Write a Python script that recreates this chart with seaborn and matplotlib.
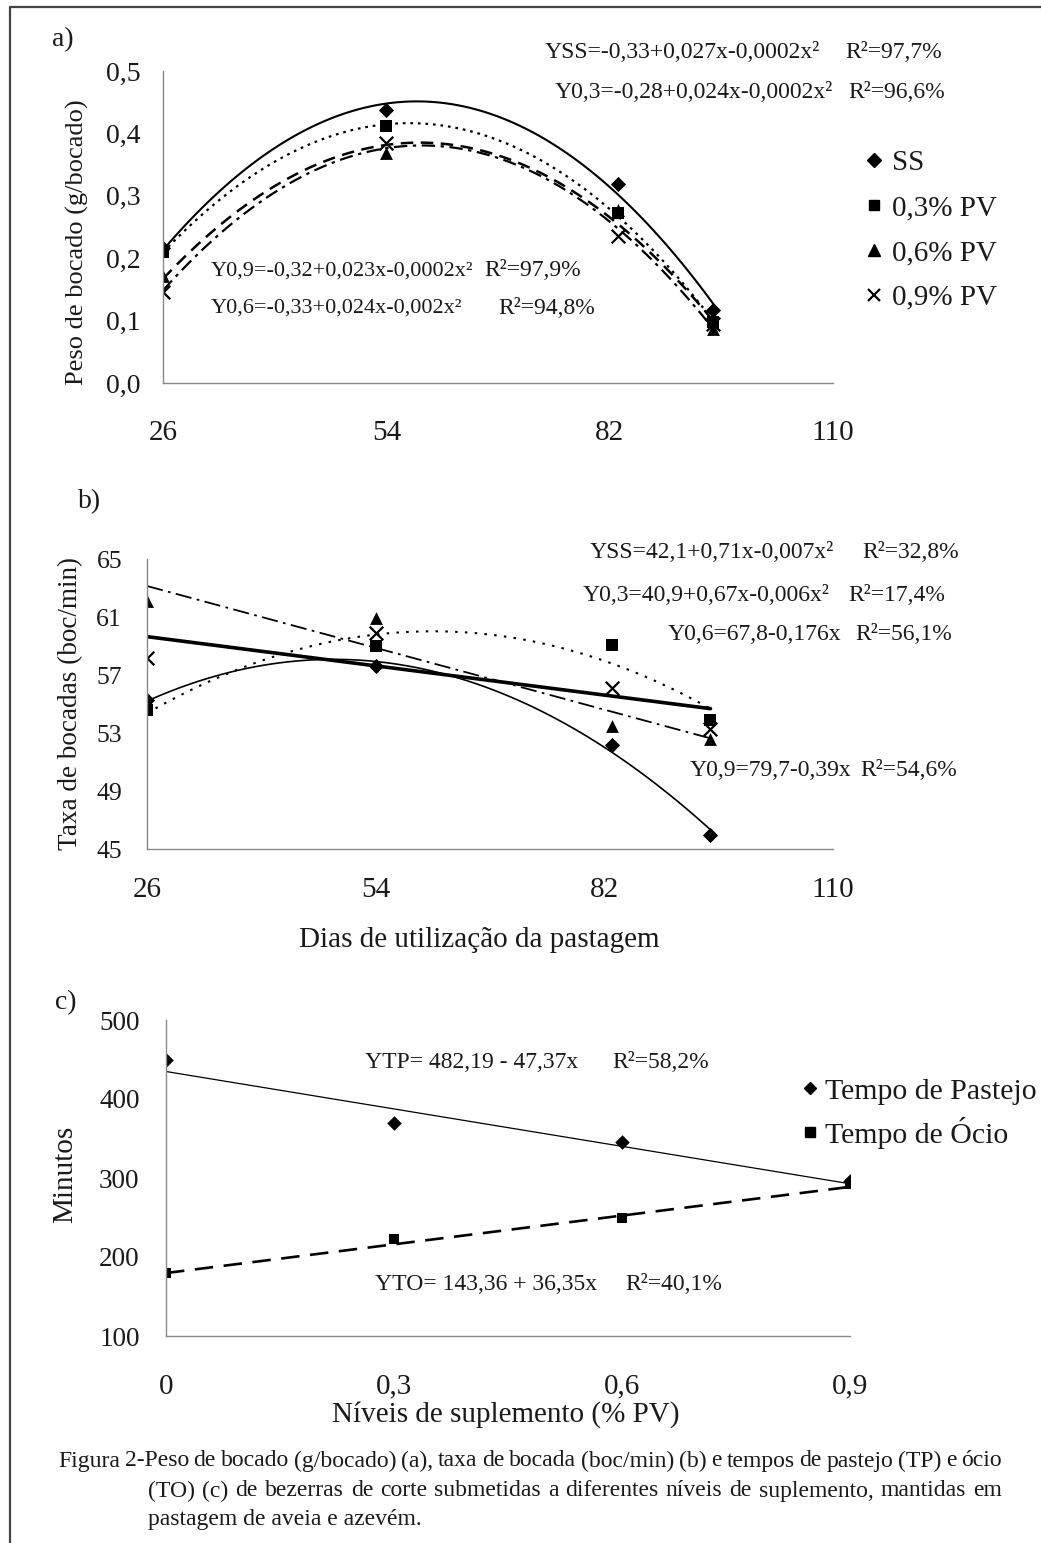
import matplotlib
matplotlib.use("Agg")
import matplotlib.pyplot as plt
import seaborn as sns
import numpy as np
from matplotlib.lines import Line2D

# ---------------- data ----------------
days = [26, 54, 83, 95]
peso_ss = [0.216, 0.438, 0.319, 0.117]
peso_03 = [0.210, 0.412, 0.272, 0.097]
peso_06 = [0.171, 0.368, 0.278, 0.086]
peso_09 = [0.146, 0.384, 0.235, 0.094]

taxa_ss = [55.3, 57.6, 52.2, 46.0]
taxa_03 = [54.6, 59.0, 59.1, 53.9]
taxa_06 = [62.1, 60.9, 53.5, 52.6]
taxa_09 = [58.2, 59.9, 56.1, 53.3]

niveis = [0, 0.3, 0.6, 0.9]
tempo_pastejo = [449, 370, 346, 296]
tempo_ocio = [180, 223, 249, 293]
fit_niveis = [0, 0.9]
fit_pastejo = [434.8, 292.7]
fit_ocio = [179.7, 288.8]

series_labels = ["SS", "0,3% PV", "0,6% PV", "0,9% PV"]
c_labels = ["Tempo de Pastejo", "Tempo de Ócio"]
day_ticks = [26, 54, 82, 110]
peso_ticks = [0.0, 0.1, 0.2, 0.3, 0.4, 0.5]
peso_ticklabels = ["0,0", "0,1", "0,2", "0,3", "0,4", "0,5"]
taxa_ticks = [45, 49, 53, 57, 61, 65]
min_ticks = [100, 200, 300, 400, 500]
nivel_ticklabels = ["0", "0,3", "0,6", "0,9"]

eq_a = [("YSS=-0,33+0,027x-0,0002x²", "R²=97,7%"),
        ("Y0,3=-0,28+0,024x-0,0002x²", "R²=96,6%"),
        ("Y0,9=-0,32+0,023x-0,0002x²", "R²=97,9%"),
        ("Y0,6=-0,33+0,024x-0,002x²", "R²=94,8%")]
eq_b = [("YSS=42,1+0,71x-0,007x²", "R²=32,8%"),
        ("Y0,3=40,9+0,67x-0,006x²", "R²=17,4%"),
        ("Y0,6=67,8-0,176x", "R²=56,1%"),
        ("Y0,9=79,7-0,39x", "R²=54,6%")]
eq_c = [("YTP= 482,19 - 47,37x", "R²=58,2%"),
        ("YTO= 143,36 + 36,35x", "R²=40,1%")]
caption = ["Figura 2-Peso de bocado (g/bocado) (a), taxa de bocada (boc/min) (b) e tempos de pastejo (TP) e ócio",
           "(TO) (c) de bezerras de corte submetidas a diferentes níveis de suplemento, mantidas em",
           "pastagem de aveia e azevém."]

# ---------------- style ----------------
sns.set_style("white")
plt.rcParams["font.family"] = ["Liberation Serif", "DejaVu Serif"]
plt.rcParams["text.color"] = "#1a1a1a"
plt.rcParams["axes.labelcolor"] = "#1a1a1a"
plt.rcParams["xtick.color"] = "#1a1a1a"
plt.rcParams["ytick.color"] = "#1a1a1a"

W, H = 1041, 1543
fig = plt.figure(figsize=(W / 100, H / 100), dpi=100)
fig.patch.set_facecolor("white")


def px_axes(l, t, r, b):
    return fig.add_axes([l / W, 1 - b / H, (r - l) / W, (b - t) / H])


def ftext(x, y, s, **kw):
    return fig.text(x / W, 1 - y / H, s, **kw)


def style_axes(ax, xpad, ypad, xfs, yfs, ylen=7):
    for s in ["top", "right"]:
        ax.spines[s].set_visible(False)
    for s in ["left", "bottom"]:
        ax.spines[s].set_color("#8a8a8a")
        ax.spines[s].set_linewidth(1.0)
    ax.tick_params(axis="x", direction="out", length=7, width=1, color="#8a8a8a",
                   pad=xpad, labelsize=xfs)
    ax.tick_params(axis="y", direction="out", length=ylen, width=1, color="#8a8a8a",
                   pad=ypad, labelsize=yfs)
    ax.grid(False)
    ax.set_facecolor("white")


mk = dict(color="black", linewidth=0)
eq_fs = 17

# ---------------- panel a ----------------
axa = px_axes(163, 71, 833, 383)
a_styles = [dict(ls="-", lw=1.5), dict(ls=(0, (1.2, 2.2)), lw=1.6),
            dict(ls=(0, (5, 3)), lw=1.8), dict(ls=(0, (6, 2.5, 1.5, 2.5)), lw=1.6)]
for vals, st in zip([peso_ss, peso_03, peso_06, peso_09], a_styles):
    sns.regplot(x=days, y=vals, order=2, ci=None, scatter=False, truncate=True,
                color="black", line_kws=st, ax=axa)
sns.scatterplot(x=days, y=peso_ss, marker="D", s=60, ax=axa, **mk)
sns.scatterplot(x=days, y=peso_03, marker="s", s=65, ax=axa, **mk)
sns.scatterplot(x=days, y=peso_06, marker="^", s=85, ax=axa, **mk)
sns.scatterplot(x=days, y=peso_09, marker="x", s=95, color="black", linewidth=1.6, ax=axa)
axa.set_xlim(26, 110)
axa.set_ylim(0, 0.5)
axa.set_xticks(day_ticks)
axa.set_yticks(peso_ticks)
axa.set_yticklabels(peso_ticklabels)
style_axes(axa, xpad=20, ypad=9, xfs=21, yfs=20)
axa.set_xlabel("")
axa.set_ylabel("Peso de bocado (g/bocado)", fontsize=19, va="center")
axa.yaxis.set_label_coords(-0.127, 0.45)

handles_a = [Line2D([], [], ls="none", marker="D", color="black", ms=7),
             Line2D([], [], ls="none", marker="s", color="black", ms=7),
             Line2D([], [], ls="none", marker="^", color="black", ms=8.5),
             Line2D([], [], ls="none", marker="x", color="black", ms=8.5, mew=1.6)]
axa.legend(handles_a, series_labels, loc="upper left", frameon=False,
           bbox_to_anchor=(866 / W, 1 - 150 / H), bbox_transform=fig.transFigure,
           fontsize=21, borderpad=0, borderaxespad=0, handlelength=0.55,
           handletextpad=0.35, labelspacing=0.63)

ftext(545, 53, eq_a[0][0], fontsize=eq_fs, va="center")
ftext(845, 53, eq_a[0][1], fontsize=eq_fs, va="center")
ftext(555, 93, eq_a[1][0], fontsize=eq_fs, va="center")
ftext(848, 93, eq_a[1][1], fontsize=eq_fs, va="center")
ftext(211, 271, eq_a[2][0], fontsize=16, va="center")
ftext(484, 271, eq_a[2][1], fontsize=eq_fs, va="center")
ftext(211, 308, eq_a[3][0], fontsize=16, va="center")
ftext(498, 308, eq_a[3][1], fontsize=eq_fs, va="center")
ftext(52, 40, "a)", fontsize=20, va="center")

# ---------------- panel b ----------------
axb = px_axes(147, 559, 833, 849)
b_styles = [dict(ls="-", lw=1.2), dict(ls=(0, (1.2, 3.5)), lw=1.5),
            dict(ls=(0, (9, 3, 1.5, 3)), lw=1.3), dict(ls="-", lw=2.6)]
b_orders = [2, 2, 1, 1]
for vals, st, o in zip([taxa_ss, taxa_03, taxa_06, taxa_09], b_styles, b_orders):
    sns.regplot(x=days, y=vals, order=o, ci=None, scatter=False, truncate=True,
                color="black", line_kws=st, ax=axb)
sns.scatterplot(x=days, y=taxa_ss, marker="D", s=60, ax=axb, **mk)
sns.scatterplot(x=days, y=taxa_03, marker="s", s=65, ax=axb, **mk)
sns.scatterplot(x=days, y=taxa_06, marker="^", s=85, ax=axb, **mk)
sns.scatterplot(x=days, y=taxa_09, marker="x", s=95, color="black", linewidth=1.6, ax=axb)
axb.set_xlim(26, 110)
axb.set_ylim(45, 65)
axb.set_xticks(day_ticks)
axb.set_yticks(taxa_ticks)
style_axes(axb, xpad=13, ypad=11, xfs=21, yfs=18.5)
axb.set_ylabel("Taxa de bocadas (boc/min)", fontsize=19.5, va="center")
axb.yaxis.set_label_coords(-0.112, 0.503)
axb.set_xlabel("Dias de utilização da pastagem", fontsize=21, va="center")
axb.xaxis.set_label_coords(0.485, -0.314)

ftext(590, 553, eq_b[0][0], fontsize=eq_fs, va="center")
ftext(862, 553, eq_b[0][1], fontsize=eq_fs, va="center")
ftext(583, 595, eq_b[1][0], fontsize=eq_fs, va="center")
ftext(848, 595, eq_b[1][1], fontsize=eq_fs, va="center")
ftext(668, 635, eq_b[2][0], fontsize=eq_fs, va="center")
ftext(855, 635, eq_b[2][1], fontsize=eq_fs, va="center")
ftext(690, 770, eq_b[3][0], fontsize=eq_fs, va="center")
ftext(860, 770, eq_b[3][1], fontsize=eq_fs, va="center")
ftext(78, 502, "b)", fontsize=20, va="center")

# ---------------- panel c ----------------
axc = px_axes(166, 1020, 850, 1336)
sns.lineplot(x=fit_niveis, y=fit_pastejo, color="black", lw=0.9, ax=axc)
sns.lineplot(x=fit_niveis, y=fit_ocio, color="black", lw=1.9, ax=axc,
             linestyle=(0, (7, 4)))
sns.scatterplot(x=niveis, y=tempo_pastejo, marker="D", s=55, ax=axc, **mk)
sns.scatterplot(x=niveis, y=tempo_ocio, marker="s", s=60, ax=axc, **mk)
axc.set_xlim(0, 0.9)
axc.set_ylim(100, 500)
axc.set_xticks(niveis)
axc.set_xticklabels(nivel_ticklabels)
axc.set_yticks(min_ticks)
style_axes(axc, xpad=20, ypad=9, xfs=21, yfs=19.5, ylen=10)
axc.set_ylabel("Minutos", fontsize=21, va="center")
axc.yaxis.set_label_coords(-0.148, 0.51)
axc.set_xlabel("Níveis de suplemento (% PV)", fontsize=21, va="center")
axc.xaxis.set_label_coords(0.496, -0.248)

handles_c = [Line2D([], [], ls="none", marker="D", color="black", ms=6.5),
             Line2D([], [], ls="none", marker="s", color="black", ms=6.5)]
axc.legend(handles_c, c_labels, loc="upper left", frameon=False,
           bbox_to_anchor=(803 / W, 1 - 1078 / H), bbox_transform=fig.transFigure,
           fontsize=21.5, borderpad=0, borderaxespad=0, handlelength=0.45,
           handletextpad=0.3, labelspacing=0.4)

ftext(365, 1062, eq_c[0][0], fontsize=eq_fs, va="center")
ftext(612, 1062, eq_c[0][1], fontsize=eq_fs, va="center")
ftext(375, 1285, eq_c[1][0], fontsize=eq_fs, va="center")
ftext(625, 1285, eq_c[1][1], fontsize=eq_fs, va="center")
ftext(55, 1003, "c)", fontsize=20, va="center")

# ---------------- caption (justified) ----------------
renderer = fig.canvas.get_renderer()
cap_fs = 17


def justified(line, x0, x1, y):
    words = line.split(" ")
    texts = [ftext(0, y, w, fontsize=cap_fs, va="center") for w in words]
    widths = [t.get_window_extent(renderer).width for t in texts]
    gap = (x1 - x0 - sum(widths)) / (len(words) - 1)
    x = x0
    for t, w in zip(texts, widths):
        t.set_position((x / W, 1 - y / H))
        x += w + gap


justified(caption[0], 58, 1002, 1461)
justified(caption[1], 148, 1002, 1491)
ftext(148, 1520, caption[2], fontsize=cap_fs, va="center")

# ---------------- frame lines ----------------
fig.add_artist(Line2D([10 / W, 10 / W], [0, 1 - 7 / H], transform=fig.transFigure,
                      color="#444444", lw=1.6))
fig.add_artist(Line2D([10 / W, 1], [1 - 7 / H, 1 - 7 / H], transform=fig.transFigure,
                      color="#444444", lw=1.6))

fig.savefig("out.png", dpi=100, facecolor="white")
